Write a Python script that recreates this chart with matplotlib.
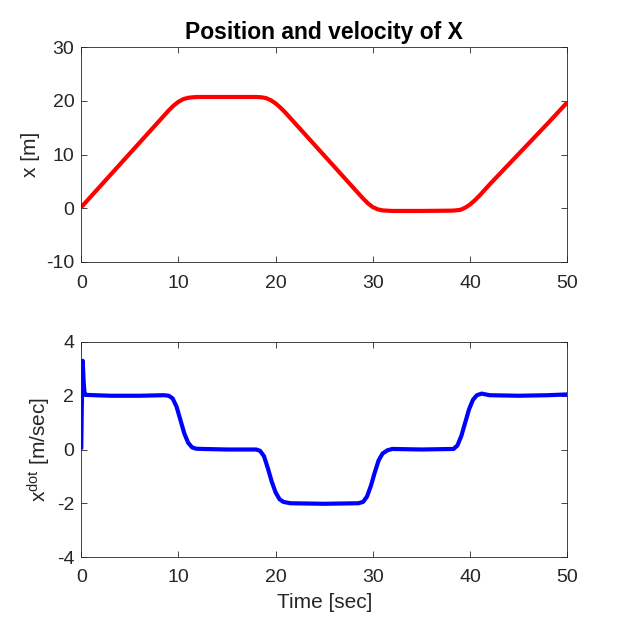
import numpy as np
import matplotlib
matplotlib.use('Agg')
import matplotlib.pyplot as plt

plt.rcParams['font.family'] = ['Liberation Sans', 'DejaVu Sans']
plt.rcParams['mathtext.fontset'] = 'custom'
plt.rcParams['mathtext.rm'] = 'Liberation Sans'
plt.rcParams['mathtext.it'] = 'Liberation Sans:italic'
plt.rcParams['axes.unicode_minus'] = False

# position of X
pos_t = [0, 2, 4, 6, 8, 9, 9.5, 10, 10.5, 11, 11.5, 12, 15, 18, 18.5, 19, 19.5,
         20, 20.5, 21, 22, 24, 26, 28, 29, 29.5, 30, 30.5, 31, 31.5, 32, 35,
         38, 38.5, 39, 39.5, 40, 40.5, 41, 42, 44, 46, 48, 50]
pos_x = [0.2, 4.2, 8.2, 12.2, 16.2, 18.2, 19.1, 19.8, 20.3, 20.55, 20.65, 20.7,
         20.7, 20.7, 20.65, 20.5, 20.1, 19.5, 18.7, 17.8, 15.8, 11.8, 7.8, 3.8,
         1.8, 0.9, 0.2, -0.2, -0.4, -0.45, -0.5, -0.5, -0.45, -0.4, -0.3, 0.1,
         0.7, 1.5, 2.4, 4.4, 8.2, 12.0, 15.8, 19.7]

# velocity of X
vel_t = [0, 0.05, 0.15, 0.25, 0.35, 0.6, 3, 6, 8.5, 9.0, 9.4, 9.8, 10.2, 10.6,
         11.0, 11.4, 11.8, 12.5, 15, 18, 18.4, 18.8, 19.2, 19.6, 20.0, 20.4,
         20.8, 21.5, 25, 28.5, 29.0, 29.4, 29.8, 30.2, 30.6, 31.0, 31.5, 32,
         35, 38.3, 38.7, 39.1, 39.5, 39.9, 40.3, 40.7, 41.2, 42, 45, 48, 50]
vel_x = [0.0, 1.5, 3.3, 2.5, 2.05, 2.03, 2.0, 2.0, 2.02, 2.0, 1.9, 1.6, 1.1,
         0.6, 0.25, 0.08, 0.03, 0.02, 0.0, 0.0, -0.05, -0.25, -0.7, -1.2, -1.6,
         -1.85, -1.95, -2.0, -2.02, -2.0, -1.95, -1.75, -1.35, -0.85, -0.4,
         -0.15, -0.03, 0.02, 0.0, 0.02, 0.15, 0.5, 1.0, 1.5, 1.85, 2.02, 2.08,
         2.02, 2.0, 2.02, 2.05]

axis_col = '#262626'

fig = plt.figure(figsize=(6.25, 6.25), dpi=100)
ax1 = fig.add_axes([0.13, 0.5808, 0.7776, 0.344])
ax2 = fig.add_axes([0.13, 0.1088, 0.7776, 0.344])

ax1.plot(pos_t, pos_x, color='red', linewidth=3, solid_capstyle='butt')
ax2.plot(vel_t, vel_x, color='blue', linewidth=3, solid_capstyle='butt')

def style_axes(ax, ylim, yticks):
    ax.set_xlim(0, 50)
    ax.set_ylim(*ylim)
    ax.set_xticks([0, 10, 20, 30, 40, 50])
    ax.set_yticks(yticks)
    ax.tick_params(direction='in', top=True, right=True, length=4, width=0.6,
                   labelsize=14, colors=axis_col)
    ax.tick_params(axis='y', pad=5)
    ax.tick_params(axis='x', pad=9)
    for s in ax.spines.values():
        s.set_color(axis_col)
        s.set_linewidth(0.6)

style_axes(ax1, (-10, 30), [-10, 0, 10, 20, 30])
style_axes(ax2, (-4, 4), [-4, -2, 0, 2, 4])

ax1.set_title('Position and velocity of X', fontsize=16.5, fontweight='bold', pad=6)
ax1.set_ylabel('x [m]', fontsize=15, color=axis_col, labelpad=4)
ax2.set_ylabel(r'x$^{\mathrm{dot}}$ [m/sec]', fontsize=15, color=axis_col, labelpad=3)
ax2.set_xlabel('Time [sec]', fontsize=15, color=axis_col, labelpad=5)

fig.savefig('out.png', dpi=100)
